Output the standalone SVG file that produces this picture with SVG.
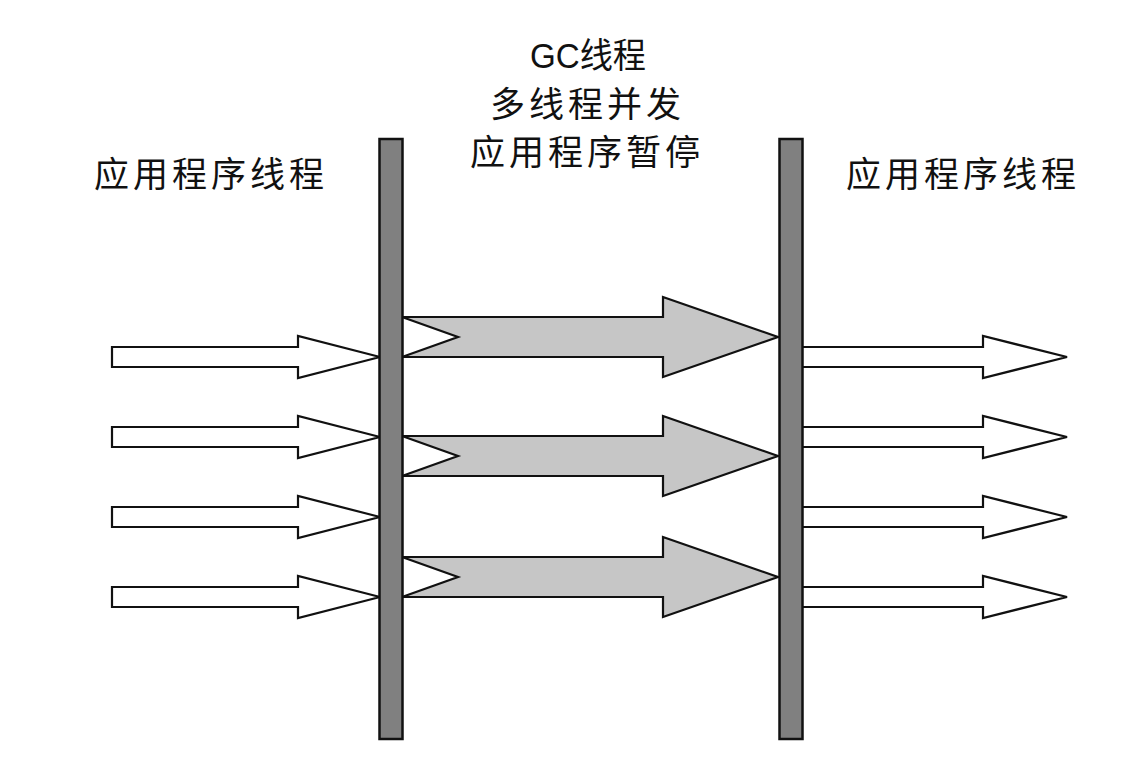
<svg xmlns="http://www.w3.org/2000/svg" width="1132" height="776" viewBox="0 0 1132 776">
<style>
.lbl{font-family:"Liberation Sans","Noto Sans CJK SC",sans-serif;font-size:35px;fill:#111;letter-spacing:4px}
.bar{fill:#808080;stroke:#111;stroke-width:2.5}
.wa{fill:#fff;stroke:#111;stroke-width:2.2;stroke-linejoin:miter}
.ga{fill:#c6c6c6;stroke:#111;stroke-width:2.2;stroke-linejoin:miter}
</style>
<rect width="1132" height="776" fill="#fff"/>
<defs>
<polygon id="white" points="0,-10 186,-10 186,-21 268,0 186,21 186,10 0,10"/>
<polygon id="whiteR" points="0,-10 183,-10 183,-21 267,0 183,21 183,10 0,10"/>
<polygon id="gray" points="0,-20 261,-20 261,-40 376,0 261,40 261,20 0,20 56,0"/>
</defs>
<g id="label-left"><text class="lbl" x="94" y="187">应用程序线程</text></g>
<g id="label-right"><text class="lbl" x="846" y="187">应用程序线程</text></g>
<g id="label-gc">
<text class="lbl" x="530" y="68" style="letter-spacing:0" textLength="116" lengthAdjust="spacingAndGlyphs">GC线程</text>
<text class="lbl" x="490" y="117">多线程并发</text>
<text class="lbl" x="470" y="165">应用程序暂停</text>
</g>
<g id="connectors">
<use href="#white" class="wa" x="112" y="357"/>
<use href="#white" class="wa" x="112" y="437"/>
<use href="#white" class="wa" x="112" y="517"/>
<use href="#white" class="wa" x="112" y="597"/>
<use href="#gray" class="ga" x="402" y="337"/>
<use href="#gray" class="ga" x="402" y="456"/>
<use href="#gray" class="ga" x="402" y="577"/>
<use href="#whiteR" class="wa" x="800" y="357"/>
<use href="#whiteR" class="wa" x="800" y="437"/>
<use href="#whiteR" class="wa" x="800" y="517"/>
<use href="#whiteR" class="wa" x="800" y="597"/>
</g>
<g id="bar-left"><rect class="bar" x="379.5" y="139" width="23" height="600"/></g>
<g id="bar-right"><rect class="bar" x="779.5" y="139" width="23" height="600"/></g>
</svg>
